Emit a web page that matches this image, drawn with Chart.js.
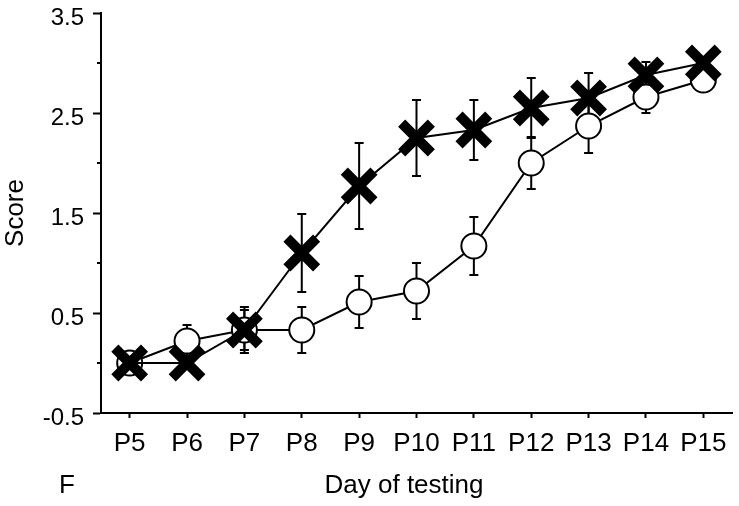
<!DOCTYPE html>
<html>
<head>
<meta charset="utf-8">
<title>Score by day of testing</title>
<script src="https://cdn.jsdelivr.net/npm/chart.js@4.4.1/dist/chart.umd.min.js"></script>
<style>
  html, body { margin: 0; padding: 0; background: #fff; }
  #wrap { width: 739px; height: 506px; }
</style>
</head>
<body>
<div id="wrap"><canvas id="scoreChart"></canvas></div>
<script>
// data
const days = ['P5', 'P6', 'P7', 'P8', 'P9', 'P10', 'P11', 'P12', 'P13', 'P14', 'P15'];
const crossMean = [0, 0, 0.33, 1.1, 1.77, 2.25, 2.33, 2.55, 2.65, 2.88, 3.0];
const crossSem = [0, 0, 0.23, 0.39, 0.43, 0.38, 0.3, 0.3, 0.25, 0.13, 0];
const circleMean = [0, 0.22, 0.33, 0.33, 0.61, 0.72, 1.17, 2.0, 2.37, 2.66, 2.83];
const circleSem = [0, 0.16, 0.2, 0.23, 0.26, 0.28, 0.29, 0.26, 0.27, 0.16, 0];
const yTicks = [-0.5, 0.5, 1.5, 2.5, 3.5];
const yMinorTicks = [0, 1, 2, 3];

const FONT = '"Liberation Sans", Arial, sans-serif';

// error bars drawn under the markers
const errorBars = {
    id: 'errorBars',
    beforeDatasetsDraw(chart) {
        const ctx = chart.ctx;
        const y = chart.scales.y;
        chart.data.datasets.forEach((ds, i) => {
            const meta = chart.getDatasetMeta(i);
            if (!ds.errors) return;
            ctx.save();
            ctx.strokeStyle = '#000';
            ctx.lineWidth = 2;
            meta.data.forEach((pt, j) => {
                const e = ds.errors[j];
                if (!e) return;
                const top = y.getPixelForValue(ds.data[j] + e);
                const bot = y.getPixelForValue(ds.data[j] - e);
                ctx.beginPath();
                ctx.moveTo(pt.x, top);
                ctx.lineTo(pt.x, bot);
                ctx.moveTo(pt.x - 4.5, top);
                ctx.lineTo(pt.x + 4.5, top);
                ctx.moveTo(pt.x - 4.5, bot);
                ctx.lineTo(pt.x + 4.5, bot);
                ctx.stroke();
            });
            ctx.restore();
        });
    }
};

// short unlabeled ticks at whole numbers, x title and panel letter
const extras = {
    id: 'extras',
    afterDraw(chart) {
        const ctx = chart.ctx;
        const y = chart.scales.y;
        const left = chart.chartArea.left;
        ctx.save();
        ctx.strokeStyle = '#000';
        ctx.lineWidth = 2;
        yMinorTicks.forEach(v => {
            const py = y.getPixelForValue(v);
            ctx.beginPath();
            ctx.moveTo(left - 4, py);
            ctx.lineTo(left, py);
            ctx.stroke();
        });
        ctx.fillStyle = '#000';
        ctx.font = '26px ' + FONT;
        ctx.textBaseline = 'alphabetic';
        ctx.textAlign = 'left';
        ctx.fillText('F', 59, 493);
        ctx.textAlign = 'center';
        ctx.fillText('Day of testing', 404, 493);
        ctx.restore();
    }
};

new Chart(document.getElementById('scoreChart'), {
    type: 'line',
    data: {
        labels: days,
        datasets: [
            {
                label: 'cross',
                data: crossMean,
                errors: crossSem,
                borderColor: '#000',
                borderWidth: 2,
                pointStyle: 'crossRot',
                pointRadius: 21,
                pointBorderWidth: 10,
                pointBorderColor: '#000',
                pointBackgroundColor: '#000',
                fill: false,
                tension: 0
            },
            {
                label: 'circle',
                data: circleMean,
                errors: circleSem,
                borderColor: '#000',
                borderWidth: 2,
                pointStyle: 'circle',
                pointRadius: 12.5,
                pointBorderWidth: 2,
                pointBorderColor: '#000',
                pointBackgroundColor: '#fff',
                fill: false,
                tension: 0
            }
        ]
    },
    options: {
        responsive: true,
        maintainAspectRatio: false,
        animation: false,
        events: [],
        layout: { autoPadding: false, padding: { top: 13, right: 7, left: 0, bottom: 0 } },
        plugins: {
            legend: { display: false },
            tooltip: { enabled: false }
        },
        scales: {
            x: {
                type: 'category',
                offset: true,
                grid: { drawOnChartArea: false, offset: false, tickLength: 5, tickWidth: 2, tickColor: '#000' },
                border: { display: true, color: '#000', width: 2 },
                ticks: { color: '#000', font: { family: FONT, size: 26 }, padding: 10, maxRotation: 0, autoSkip: false },
                afterFit: s => {
                    s.height = 93;
                    s.paddingLeft = 0;
                    s.paddingRight = 0;
                }
            },
            y: {
                min: -0.5,
                max: 3.5,
                afterBuildTicks: s => { s.ticks = yTicks.map(v => ({ value: v })); },
                grid: { drawOnChartArea: false, tickLength: 8, tickWidth: 2, tickColor: '#000' },
                border: { display: true, color: '#000', width: 2 },
                ticks: { color: '#000', font: { family: FONT, size: 24 }, padding: 9, labelOffset: 5, callback: v => v.toFixed(1) },
                title: { display: true, text: 'Score', color: '#000', font: { family: FONT, size: 26 }, padding: { top: 0, bottom: 0 } },
                afterFit: s => {
                    s.width = 101;
                    s.paddingTop = 0;
                    s.paddingBottom = 0;
                }
            }
        }
    },
    plugins: [errorBars, extras]
});
</script>
</body>
</html>
